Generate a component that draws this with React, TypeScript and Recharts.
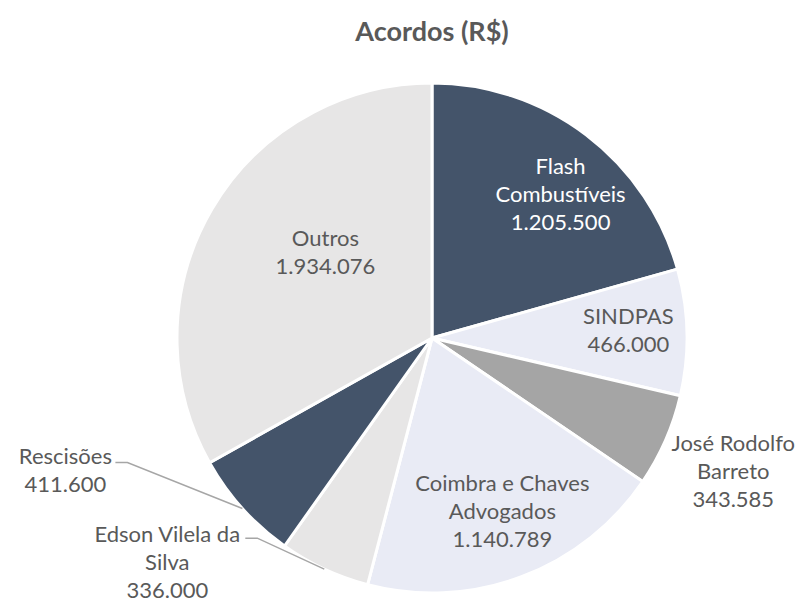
import { PieChart, Pie, Cell } from "recharts";

const categories = [
  "Flash Combustíveis",
  "SINDPAS",
  "José Rodolfo Barreto",
  "Coimbra e Chaves Advogados",
  "Edson Vilela da Silva",
  "Rescisões",
  "Outros",
];
const labelLines = [
  ["Flash", "Combustíveis"],
  ["SINDPAS"],
  ["José Rodolfo", "Barreto"],
  ["Coimbra e Chaves", "Advogados"],
  ["Edson Vilela da", "Silva"],
  ["Rescisões"],
  ["Outros"],
];
const values = [1205500, 466000, 343585, 1140789, 336000, 411600, 1934076];

const colors = ["#44546A", "#E9EBF5", "#A5A5A5", "#E9EBF5", "#E7E6E6", "#44546A", "#E7E6E6"];
const textColors = ["#FFFFFF", "#595959", "#595959", "#595959", "#595959", "#595959", "#595959"];

// label placement: radial factor + nudge, or leader line (elbow offset from arc point)
const labelLayout: any[] = [
  { r: 0.75, dx: 13, dy: 7 },
  { r: 0.77, dx: 0, dy: -5 },
  { r: 1.29, dx: 0, dy: 0 },
  { r: 0.73, dx: 5, dy: -2 },
  { leader: [-67, -31], tx: -90, ty: -5 },
  { leader: [-115, -46], tx: -62, ty: -8 },
  { r: 0.53, dx: 10, dy: -19 },
];

const data = categories.map((name, i) => ({ name, value: values[i] }));

const fmt = (v: number) => v.toLocaleString("de-DE");

const FONT = "Lato, 'Open Sans', sans-serif";
const LINE_H = 28;
const RAD = Math.PI / 180;

function renderLabel(props: any) {
  const { cx, cy, midAngle, outerRadius, index, value } = props;
  const lay = labelLayout[index];
  const lines = [...labelLines[index], fmt(value)];
  const cos = Math.cos(-midAngle * RAD);
  const sin = Math.sin(-midAngle * RAD);
  let x: number;
  let y: number;
  let line = null;
  if (lay.leader) {
    const ax = cx + outerRadius * cos;
    const ay = cy + outerRadius * sin;
    const ex = ax + lay.leader[0];
    const ey = ay + lay.leader[1];
    line = (
      <polyline
        points={`${ax},${ay} ${ex},${ey} ${ex - 12},${ey}`}
        fill="none"
        stroke="#A6A6A6"
        strokeWidth={1.5}
      />
    );
    x = ex + lay.tx;
    y = ey + lay.ty + ((lines.length - 1) * LINE_H) / 2;
  } else {
    x = cx + outerRadius * lay.r * cos + lay.dx;
    y = cy + outerRadius * lay.r * sin + lay.dy;
  }
  const y0 = y - ((lines.length - 1) * LINE_H) / 2;
  return (
    <g key={`lbl-${index}`}>
      {line}
      <text
        x={x}
        y={y0}
        textAnchor="middle"
        dominantBaseline="central"
        fill={textColors[index]}
        fontFamily={FONT}
        fontSize={22}
      >
        {lines.map((t, k) => (
          <tspan key={k} x={x} y={y0 + k * LINE_H}>
            {t}
          </tspan>
        ))}
      </text>
    </g>
  );
}

export default function App() {
  return (
    <div style={{ position: "absolute", left: 0, top: 0, width: 797, height: 601, background: "#fff" }}>
      <div
        style={{
          position: "absolute",
          left: 282,
          top: 13,
          width: 300,
          textAlign: "center",
          fontFamily: FONT,
          fontWeight: 700,
          fontSize: 27,
          color: "#595959",
          lineHeight: "36px",
        }}
      >
        Acordos (R$)
      </div>
      <PieChart width={797} height={601} margin={{ top: 0, right: 0, bottom: 0, left: 0 }}>
        <Pie
          data={data}
          dataKey="value"
          nameKey="name"
          cx={432}
          cy={338}
          outerRadius={255}
          startAngle={90}
          endAngle={-270}
          stroke="#FFFFFF"
          strokeWidth={3}
          label={renderLabel}
          labelLine={false}
          isAnimationActive={false}
        >
          {data.map((d, i) => (
            <Cell key={d.name} fill={colors[i]} />
          ))}
        </Pie>
      </PieChart>
    </div>
  );
}
